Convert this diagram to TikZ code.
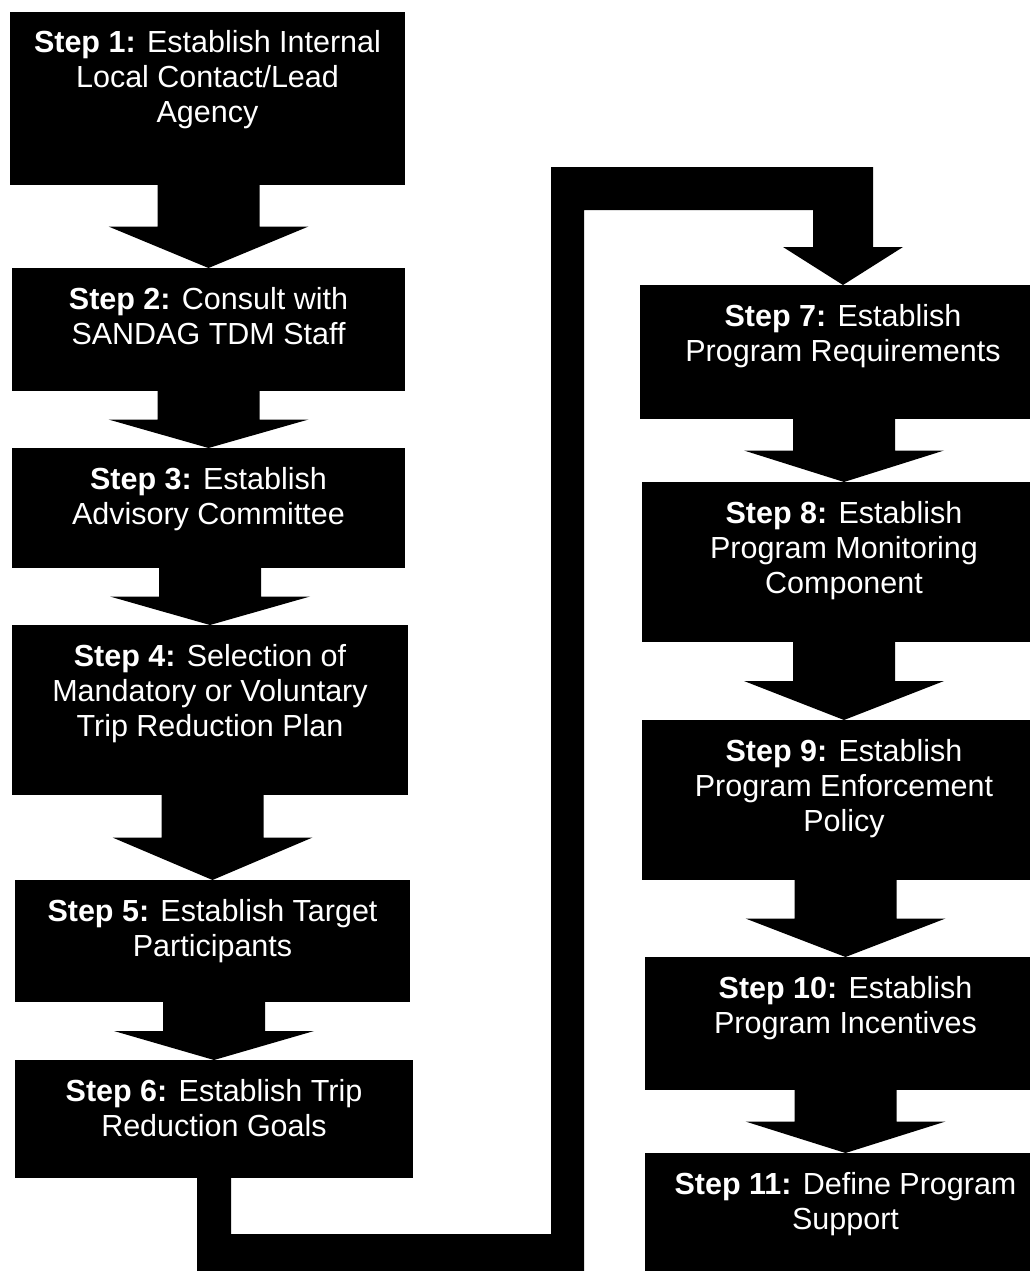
\documentclass[tikz,border=0pt]{standalone}
\usepackage{fontspec}
\setmainfont{Liberation Sans}
\usetikzlibrary{calc}

\tikzset{
  stepbox/.style={fill=black, text=white, inner sep=0pt, outer sep=0pt, anchor=north},
  flow/.style={fill=black},
}

% white text block, top aligned: width, height, step number, remaining text
\newcommand{\steplabel}[4]{%
  \parbox[t][#2][t]{#1}{\centering\fontsize{30.5}{35}\selectfont
    \rule{0pt}{41pt}\textbf{Step #3:} #4}}

% wide block arrow from the bottom of one box to the top of the next
\newcommand{\blockarrow}[2]{%
  \fill[flow] let \p1=(#1.south), \p2=(#2.north), \n1={0.5*(\y1+\y2)} in
    (\x2-51pt,\y1+1pt) -- (\x2-51pt,\n1) -- (\x2-100pt,\n1) -- (\x2,\y2)
    -- (\x2+100pt,\n1) -- (\x2+51pt,\n1) -- (\x2+51pt,\y1+1pt) -- cycle;}

\begin{document}
\begin{tikzpicture}[x=1pt,y=1pt]
  \useasboundingbox (0,0) rectangle (1030,-1271);
  \fill[white] (0,0) rectangle (1030,-1271);
  \clip (0,0) rectangle (1030,-1271);

  % left column
  \node[stepbox] (s1) at (207.5,-12)
    {\steplabel{395pt}{173pt}{1}{Establish Internal\\Local Contact/Lead\\Agency}};
  \node[stepbox] (s2) at (208.5,-268)
    {\steplabel{393pt}{123pt}{2}{Consult with\\SANDAG TDM Staff}};
  \node[stepbox] (s3) at (208.5,-448)
    {\steplabel{393pt}{120pt}{3}{Establish\\Advisory Committee}};
  \node[stepbox] (s4) at (210,-625)
    {\steplabel{396pt}{170pt}{4}{Selection of\\Mandatory or Voluntary\\Trip Reduction Plan}};
  \node[stepbox] (s5) at (212.5,-880)
    {\steplabel{395pt}{122pt}{5}{Establish Target\\Participants}};
  \node[stepbox] (s6) at (214,-1060)
    {\steplabel{398pt}{118pt}{6}{Establish Trip\\Reduction Goals}};

  % right column
  \node[stepbox] (s7) at (843,-285)
    {\steplabel{406pt}{134pt}{7}{Establish\\Program Requirements}};
  \node[stepbox] (s8) at (844,-482)
    {\steplabel{404pt}{160pt}{8}{Establish\\Program Monitoring\\Component}};
  \node[stepbox] (s9) at (844,-720)
    {\steplabel{404pt}{160pt}{9}{Establish\\Program Enforcement\\Policy}};
  \node[stepbox] (s10) at (845.5,-957)
    {\steplabel{401pt}{133pt}{10}{Establish\\Program Incentives}};
  \node[stepbox] (s11) at (845.5,-1153)
    {\steplabel{401pt}{135pt}{11}{Define Program\\Support}};

  % arrows between consecutive steps
  \blockarrow{s1}{s2}
  \blockarrow{s2}{s3}
  \blockarrow{s3}{s4}
  \blockarrow{s4}{s5}
  \blockarrow{s5}{s6}
  \blockarrow{s7}{s8}
  \blockarrow{s8}{s9}
  \blockarrow{s9}{s10}
  \blockarrow{s10}{s11}

  % routed connector from step 6 round to step 7
  \fill[flow] let \p1=(s6.south), \p2=(s7.north) in
    (\x1-17pt,\y1+1pt) -- (\x1-17pt,-1290) -- (584,-1290) -- (584,-210)
    -- (\x2-30pt,-210) -- (\x2-30pt,-247) -- (\x2-60pt,-247) -- (\x2,\y2)
    -- (\x2+60pt,-247) -- (\x2+30pt,-247) -- (\x2+30pt,-167) -- (551,-167)
    -- (551,-1234) -- (\x1+17pt,-1234) -- (\x1+17pt,\y1+1pt) -- cycle;
\end{tikzpicture}
\end{document}
